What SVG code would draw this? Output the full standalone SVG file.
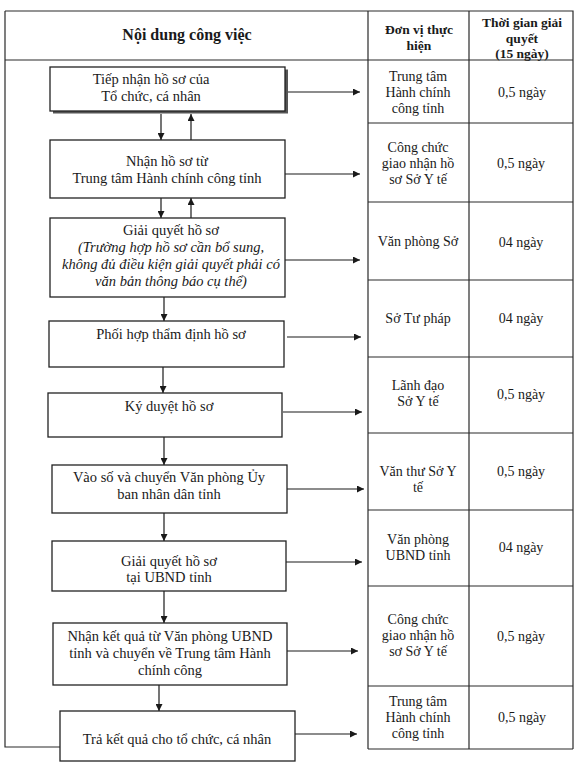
<svg xmlns="http://www.w3.org/2000/svg" width="576" height="768" viewBox="0 0 576 768">
<defs>
<marker id="ah" viewBox="0 0 10 10" refX="10" refY="5" markerWidth="7" markerHeight="7" markerUnits="userSpaceOnUse" orient="auto">
<path d="M0,0 L10,5 L0,10 Z" fill="#1a1a1a"/>
</marker>
<style>
.t{font-family:"Liberation Serif","Times New Roman",serif;font-size:14.5px;fill:#1a1a1a;text-anchor:middle}
.ti{font-style:italic}
.r{font-size:14px}
.h{font-weight:bold;font-size:13.5px}
.hb{font-weight:bold;font-size:16px}
.ln{stroke:#2a2a2a;stroke-width:1.2;fill:none}
.box{fill:#fff;stroke:#222;stroke-width:1.3}
.c{stroke:#1a1a1a;stroke-width:1.2;fill:none;marker-end:url(#ah)}
</style>
</defs>
<rect width="576" height="768" fill="#fff"/>
<g id="table">
<path class="ln" d="M5,11 H573 V749 M5,11 V747 H62 M368,11 V749 M469,11 V749 M5,60 H573 M368,749 H573"/>
<path class="ln" d="M368,123 H573 M368,202 H573 M368,280 H573 M368,357 H573 M368,433 H573 M368,510 H573 M368,586 H573 M368,686 H573"/>
<text class="t hb" x="187" y="40">Nội dung công việc</text>
<text class="t h" x="419" y="34">Đơn vị thực</text>
<text class="t h" x="419" y="50">hiện</text>
<text class="t h" x="522" y="27">Thời gian giải</text>
<text class="t h" x="522" y="43">quyết</text>
<text class="t h" x="522" y="58">(15 ngày)</text>
</g>
<g id="units">
<text class="t r" x="418" y="81">Trung tâm</text>
<text class="t r" x="418" y="97">Hành chính</text>
<text class="t r" x="418" y="113">công tỉnh</text>
<text class="t r" x="522" y="97">0,5 ngày</text>
<text class="t r" x="418" y="152">Công chức</text>
<text class="t r" x="418" y="168">giao nhận hồ</text>
<text class="t r" x="418" y="184">sơ Sở Y tế</text>
<text class="t r" x="521" y="168">0,5 ngày</text>
<text class="t r" x="418" y="246">Văn phòng Sở</text>
<text class="t r" x="521" y="247">04 ngày</text>
<text class="t r" x="418" y="323">Sở Tư pháp</text>
<text class="t r" x="521" y="323">04 ngày</text>
<text class="t r" x="418" y="390">Lãnh đạo</text>
<text class="t r" x="418" y="406">Sở Y tế</text>
<text class="t r" x="521" y="399">0,5 ngày</text>
<text class="t r" x="418" y="476">Văn thư Sở Y</text>
<text class="t r" x="418" y="492">tế</text>
<text class="t r" x="521" y="476">0,5 ngày</text>
<text class="t r" x="418" y="544">Văn phòng</text>
<text class="t r" x="418" y="560">UBND tỉnh</text>
<text class="t r" x="521" y="552">04 ngày</text>
<text class="t r" x="418" y="624">Công chức</text>
<text class="t r" x="418" y="640">giao nhận hồ</text>
<text class="t r" x="418" y="656">sơ Sở Y tế</text>
<text class="t r" x="521" y="641">0,5 ngày</text>
<text class="t r" x="418" y="706">Trung tâm</text>
<text class="t r" x="418" y="722">Hành chính</text>
<text class="t r" x="418" y="738">công tỉnh</text>
<text class="t r" x="522" y="722">0,5 ngày</text>
</g>
<g id="connectors">
<path class="c" d="M161,114 V140"/>
<path class="c" d="M191,140 V114"/>
<path class="c" d="M161,198 V218"/>
<path class="c" d="M191,218 V198"/>
<path class="c" d="M164,297 V321"/>
<path class="c" d="M163,367 V393"/>
<path class="c" d="M164,437 V465"/>
<path class="c" d="M164,513 V541"/>
<path class="c" d="M164,591 V623"/>
<path class="c" d="M159,685 V711"/>
<path class="c" d="M286,92 H360"/>
<path class="c" d="M285,174 H360"/>
<path class="c" d="M285,260 H360"/>
<path class="c" d="M287,337 H361"/>
<path class="c" d="M283,412 H362"/>
<path class="c" d="M287,489 H364"/>
<path class="c" d="M286,562 H362"/>
<path class="c" d="M287,651 H358"/>
<path class="c" d="M295,734 H357"/>
</g>
<g id="n1">
<rect x="53" y="69.5" width="235" height="44" fill="#555"/>
<rect class="box" x="50" y="67" width="235" height="44"/>
<text class="t" x="151" y="84">Tiếp nhận hồ sơ của</text>
<text class="t" x="151" y="101">Tổ chức, cá nhân</text>
</g>
<g id="n2">
<rect class="box" x="50" y="140" width="235" height="58"/>
<text class="t" x="167" y="166">Nhận hồ sơ từ</text>
<text class="t" x="167" y="183">Trung tâm Hành chính công tỉnh</text>
</g>
<g id="n3">
<rect class="box" x="50" y="218" width="235" height="79"/>
<text class="t" x="171" y="235">Giải quyết hồ sơ</text>
<text class="t ti" x="171" y="252">(Trường hợp hồ sơ cần bổ sung,</text>
<text class="t ti" x="171" y="269">không đủ điều kiện giải quyết phải có</text>
<text class="t ti" x="171" y="286">văn bản thông báo cụ thể)</text>
</g>
<g id="n4">
<rect class="box" x="49" y="321" width="235" height="46"/>
<text class="t" x="171" y="339">Phối hợp thẩm định hồ sơ</text>
</g>
<g id="n5">
<rect class="box" x="48" y="393" width="234" height="44"/>
<text class="t" x="169" y="411">Ký duyệt hồ sơ</text>
</g>
<g id="n6">
<rect class="box" x="52" y="465" width="235" height="48"/>
<text class="t" x="169" y="482">Vào số và chuyển Văn phòng Ủy</text>
<text class="t" x="169" y="499">ban nhân dân tỉnh</text>
</g>
<g id="n7">
<rect class="box" x="52" y="541" width="234" height="50"/>
<text class="t" x="169" y="566">Giải quyết hồ sơ</text>
<text class="t" x="169" y="582">tại UBND tỉnh</text>
</g>
<g id="n8">
<rect class="box" x="53" y="623" width="234" height="62"/>
<text class="t" x="170" y="641">Nhận kết quả từ Văn phòng UBND</text>
<text class="t" x="170" y="658">tỉnh và chuyển về Trung tâm Hành</text>
<text class="t" x="170" y="675">chính công</text>
</g>
<g id="n9">
<rect class="box" x="60" y="711" width="235" height="50"/>
<text class="t" x="177" y="744">Trả kết quả cho tổ chức, cá nhân</text>
</g>
</svg>
